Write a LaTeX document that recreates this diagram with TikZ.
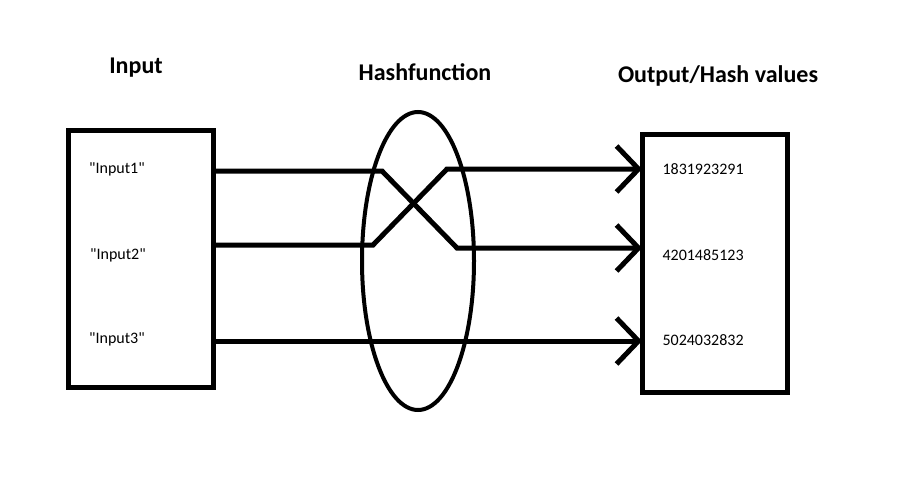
\documentclass[tikz,border=0pt]{standalone}
\usepackage{fontspec}
\setmainfont{Carlito}
\usetikzlibrary{shapes.geometric,arrows.meta}
\tikzset{
  box/.style={draw, line width=5pt, minimum width=145pt, minimum height=257pt, outer sep=0pt},
  wire/.style={line width=5pt},
  title/.style={font=\fontsize{24}{28}\selectfont\bfseries},
  entry/.style={font=\fontsize{16}{19}\selectfont},
  chevron/.style={-{Straight Barb[length=22pt,width=46pt,line width=5pt]}}
}
\begin{document}
\begin{tikzpicture}[x=1pt,y=-1pt]
        \useasboundingbox (0,0) rectangle (908,488);
        % Titles
        \node[title] (tin) at (136,68) {Input};
        \node[title] (thash) at (425,72) {Hashfunction};
        \node[title] (tout) at (718,76) {Output/Hash values};

        % Boxes and hash function
        \node[box] (inbox) at (140.5,258.5) {};
        \node[box, minimum height=258pt] (outbox) at (714.5,263) {};
        \node[draw, ellipse, line width=4pt, minimum width=112pt, minimum height=298pt] (hash) at (418,261) {};

        % Inputs
        \node[entry] (in1) at (117,169) {\textquotedbl Input1\textquotedbl};
        \node[entry] (in2) at (118,255) {\textquotedbl Input2\textquotedbl};
        \node[entry] (in3) at (117,339) {\textquotedbl Input3\textquotedbl};

        % Hash values
        \node[entry, anchor=west] (out1) at (659,169) {1831923291};
        \node[entry, anchor=west] (out2) at (659,255) {4201485123};
        \node[entry, anchor=west] (out3) at (659,340) {5024032832};

        % Bends of the crossing wires
        \coordinate (a1) at (382,171);
        \coordinate (b1) at (457,248);
        \coordinate (a2) at (373,245);
        \coordinate (b2) at (447,169);

        % Wires
        \draw[wire, chevron] (inbox.east |- a1) -- (a1) -- (b1) -- (outbox.west |- b1);
        \draw[wire, chevron] (inbox.east |- a2) -- (a2) -- (b2) -- (outbox.west |- b2);
        \draw[wire, chevron] (inbox.east |- 0,341) -- (outbox.west |- 0,341);
    \end{tikzpicture}
\end{document}
